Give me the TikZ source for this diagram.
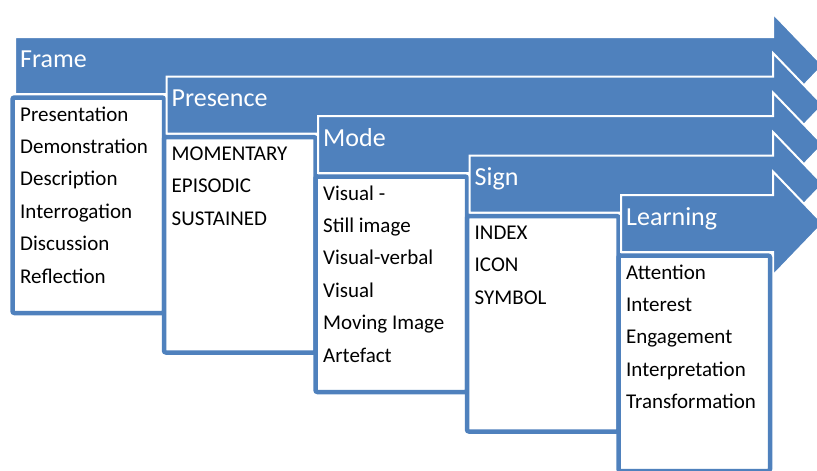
\documentclass[tikz,border=0pt]{standalone}
\usepackage{fontspec}
\setmainfont{Carlito}
\definecolor{accent}{HTML}{4F81BD}
\begin{document}
\begin{tikzpicture}[x=1pt,y=-1pt,
  band/.style={fill=accent, draw=white, line width=2pt, line join=miter},
  panel/.style={fill=white, draw=accent, line width=4.5pt, rounded corners=2pt},
  title/.style={anchor=base west, inner sep=0pt, text=white, font=\fontsize{26}{30}\selectfont},
  item/.style={anchor=base west, inner sep=0pt, text=black, font=\fontsize{21}{25}\selectfont}]
\useasboundingbox (0,0) rectangle (817,471);
\clip (0,0) rectangle (817,471);

% staggered stages: arrow band, then its text panel, each over the previous one
\foreach \i/\t/\n in {0/Frame/frame, 1/Presence/presence, 2/Mode/mode, 3/Sign/sign, 4/Learning/learning} {
  \pgfmathsetmacro\L{15+151.5*\i}
  \pgfmathsetmacro\T{37+39.5*\i}
  \pgfmathsetmacro\Tb{\T+57}
  \pgfmathsetmacro\Hu{\T-23.5}
  \pgfmathsetmacro\Hm{\T+28.5}
  \pgfmathsetmacro\Hd{\T+80.5}
  \pgfmathsetmacro\bx{12.5+151.5*\i}
  \pgfmathsetmacro\by{97.5+39.5*\i}
  \pgfmathsetmacro\tb{67+39.5*\i}
  \draw[band] (\L,\T) -- (773,\T) -- (773,\Hu) -- (823,\Hm) -- (773,\Hd)
              -- (773,\Tb) -- (\L,\Tb) -- cycle;
  \draw[panel] (\bx,\by) rectangle ++(151.5,215.5);
  \node[title] (\n) at (\L+5,\tb) {\t};
}

% list entries of each panel
\foreach \i/\k/\s in {0/1/Presentation, 0/2/Demonstration, 0/3/Description,
    0/4/Interrogation, 0/5/Discussion, 0/6/Reflection,
    1/1/MOMENTARY, 1/2/EPISODIC, 1/3/SUSTAINED,
    2/1/Visual -, 2/2/Still image, 2/3/Visual-verbal, 2/4/Visual,
    2/5/Moving Image, 2/6/Artefact,
    3/1/INDEX, 3/2/ICON, 3/3/SYMBOL,
    4/1/Attention, 4/2/Interest, 4/3/Engagement, 4/4/Interpretation,
    4/5/Transformation} {
  \pgfmathsetmacro\ix{20+151.5*\i}
  \pgfmathsetmacro\iy{121+39.5*\i+32.4*(\k-1)}
  \node[item] (item-\i-\k) at (\ix,\iy) {\s};
}
\end{tikzpicture}
\end{document}
